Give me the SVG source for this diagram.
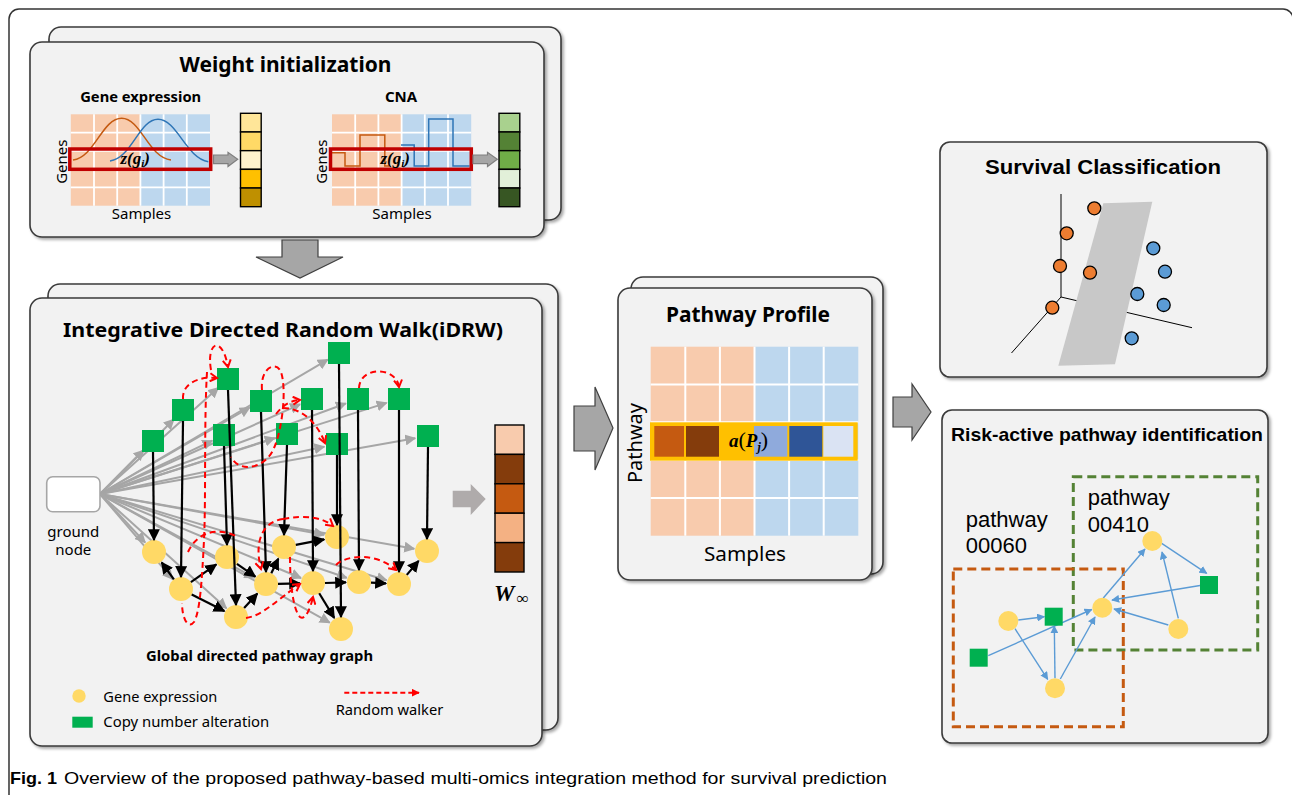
<svg xmlns="http://www.w3.org/2000/svg" width="1292" height="795" viewBox="0 0 1292 795">
<defs>
<style>
.panel{fill:#F2F2F2;stroke:#3A3A3A;stroke-width:1.6;filter:url(#sh)}
.t{font-family:"Noto Sans","Liberation Sans",sans-serif;fill:#000}
.a{font-family:"Liberation Sans",Arial,sans-serif;fill:#000}
.m{font-family:"Liberation Serif","DejaVu Serif",serif;font-weight:bold;font-style:italic;fill:#000}
.b{font-weight:bold}
.gl{stroke:#A6A6A6;stroke-width:2;fill:none;marker-end:url(#ga)}
.bl{stroke:#000;stroke-width:2.2;fill:none;marker-end:url(#ba)}
.rd{stroke:#FF0000;stroke-width:2;fill:none;stroke-dasharray:6 4;marker-end:url(#ra)}
.rdn{stroke:#FF0000;stroke-width:2;fill:none;stroke-dasharray:6 4}
.gene{fill:#FFD966}
.cna{fill:#00B050}
.blu{stroke:#5B9BD5;stroke-width:1.4;fill:none;marker-end:url(#bla)}
.or{fill:#F8CBAD}
.bu{fill:#BDD7EE}
.wl{stroke:#FFFFFF;stroke-width:1.8}
.big{fill:#A6A6A6;stroke:#404040;stroke-width:1.2}
.cell{stroke:#000;stroke-width:1.4}
.oc{fill:#ED7D31;stroke:#000;stroke-width:1.3}
.bc{fill:#5B9BD5;stroke:#000;stroke-width:1.3}
</style>
<filter id="sh" x="-5%" y="-5%" width="115%" height="115%"><feDropShadow dx="2" dy="2" stdDeviation="1.5" flood-color="#000" flood-opacity="0.35"/></filter>
<marker id="ga" viewBox="0 0 10 10" refX="9" refY="5" markerWidth="11" markerHeight="11" orient="auto" markerUnits="userSpaceOnUse"><path d="M0,0 L10,5 L0,10z" fill="#A6A6A6"/></marker>
<marker id="ba" viewBox="0 0 10 10" refX="9" refY="5" markerWidth="12" markerHeight="12" orient="auto" markerUnits="userSpaceOnUse"><path d="M0,0 L10,5 L0,10z" fill="#000"/></marker>
<marker id="ra" viewBox="0 0 10 10" refX="8" refY="5" markerWidth="10" markerHeight="10" orient="auto" markerUnits="userSpaceOnUse"><path d="M1,1 L8,5 L1,9" fill="none" stroke="#FF0000" stroke-width="2"/></marker>
<marker id="rf" viewBox="0 0 10 10" refX="9" refY="5" markerWidth="8" markerHeight="8" orient="auto" markerUnits="userSpaceOnUse"><path d="M0,0 L10,5 L0,10z" fill="#FF0000"/></marker>
<marker id="bla" viewBox="0 0 10 10" refX="9" refY="5" markerWidth="8" markerHeight="8" orient="auto" markerUnits="userSpaceOnUse"><path d="M0,0 L10,5 L0,10z" fill="#5B9BD5"/></marker>
</defs>
<rect width="1292" height="795" fill="#FFFFFF"/>
<rect id="frame" x="9" y="9" width="1284" height="810" rx="10" fill="none" stroke="#333" stroke-width="1.5"/>

<!-- Weight initialization -->
<g id="weight-init">
<rect class="panel" x="49" y="27" width="512" height="193" rx="12"/>
<rect class="panel" x="30" y="42" width="514" height="195" rx="12"/>
<text class="t b" x="285.5" y="71.7" font-size="22" text-anchor="middle" textLength="212" lengthAdjust="spacingAndGlyphs">Weight initialization</text>
<text class="t b" x="80.2" y="101.7" font-size="15" textLength="121" lengthAdjust="spacingAndGlyphs">Gene expression</text>
<text class="t b" x="401" y="101.7" font-size="15" text-anchor="middle">CNA</text>
<!-- GE grid -->
<rect class="or" x="70.8" y="114.3" width="69.6" height="91.4"/>
<rect class="bu" x="140.4" y="114.3" width="69.6" height="91.4"/>
<g class="wl"><line x1="94" y1="114.3" x2="94" y2="205.7"/><line x1="117.2" y1="114.3" x2="117.2" y2="205.7"/><line x1="140.4" y1="114.3" x2="140.4" y2="205.7"/><line x1="163.6" y1="114.3" x2="163.6" y2="205.7"/><line x1="186.8" y1="114.3" x2="186.8" y2="205.7"/><line x1="70.8" y1="132.6" x2="210" y2="132.6"/><line x1="70.8" y1="150.9" x2="210" y2="150.9"/><line x1="70.8" y1="169.2" x2="210" y2="169.2"/><line x1="70.8" y1="187.4" x2="210" y2="187.4"/></g>
<path d="M73,160 C95,157 102,118.3 121.7,118.3 C141,118.3 148,157 171,160" fill="none" stroke="#C55A11" stroke-width="1.5"/>
<path d="M110,161 C132,158 139,119.3 158,119.3 C177,119.3 186,158 208.3,161.7" fill="none" stroke="#2E75B6" stroke-width="1.5"/>
<rect x="69.8" y="149" width="140.9" height="20.3" fill="none" stroke="#C00000" stroke-width="3.5"/>
<text class="m" x="120.5" y="164" font-size="17">z(g<tspan font-size="11" dy="3">i</tspan><tspan dy="-3">)</tspan></text>
<text class="t" transform="translate(66.5,161.7) rotate(-90)" font-size="15" text-anchor="middle">Genes</text>
<text class="t" x="141.5" y="219" font-size="15" text-anchor="middle">Samples</text>
<path d="M213.5,155 H228 V152.3 L237.7,159.3 L228,166.5 V163.7 H213.5 Z" style="fill:#A6A6A6;stroke:#7F7F7F;stroke-width:1.2"/>
<g class="cell"><rect x="240.5" y="113.3" width="20.7" height="18.68" fill="#FFE699"/><rect x="240.5" y="131.98" width="20.7" height="18.68" fill="#FFD966"/><rect x="240.5" y="150.66" width="20.7" height="18.68" fill="#FFF2CC"/><rect x="240.5" y="169.34" width="20.7" height="18.68" fill="#FFC000"/><rect x="240.5" y="188.02" width="20.7" height="18.68" fill="#BF9000"/></g>
<!-- CNA grid -->
<rect class="or" x="332" y="114.3" width="69.6" height="91.4"/>
<rect class="bu" x="401.6" y="114.3" width="69.6" height="91.4"/>
<g class="wl"><line x1="355.2" y1="114.3" x2="355.2" y2="205.7"/><line x1="378.4" y1="114.3" x2="378.4" y2="205.7"/><line x1="401.6" y1="114.3" x2="401.6" y2="205.7"/><line x1="424.8" y1="114.3" x2="424.8" y2="205.7"/><line x1="448" y1="114.3" x2="448" y2="205.7"/><line x1="332" y1="132.6" x2="471.2" y2="132.6"/><line x1="332" y1="150.9" x2="471.2" y2="150.9"/><line x1="332" y1="169.2" x2="471.2" y2="169.2"/><line x1="332" y1="187.4" x2="471.2" y2="187.4"/></g>
<path d="M331,152.7 H345 V166 H360 V135 H384.8 V166 H389" fill="none" stroke="#C55A11" stroke-width="1.5"/>
<path d="M401,145 H414.2 V166 H428.7 V119 H453 V166 H469.6" fill="none" stroke="#2E75B6" stroke-width="1.5"/>
<rect x="330.5" y="149" width="140.8" height="20.3" fill="none" stroke="#C00000" stroke-width="3.5"/>
<text class="m" x="380.5" y="164" font-size="17">z(g<tspan font-size="11" dy="3">i</tspan><tspan dy="-3">)</tspan></text>
<text class="t" transform="translate(327,161.7) rotate(-90)" font-size="15" text-anchor="middle">Genes</text>
<text class="t" x="402" y="219" font-size="15" text-anchor="middle">Samples</text>
<path d="M473,155 H487.5 V152.3 L497.3,159.3 L487.5,166.5 V163.7 H473 Z" style="fill:#A6A6A6;stroke:#7F7F7F;stroke-width:1.2"/>
<g class="cell"><rect x="499" y="113.3" width="20.8" height="18.68" fill="#A9D18E"/><rect x="499" y="131.98" width="20.8" height="18.68" fill="#548235"/><rect x="499" y="150.66" width="20.8" height="18.68" fill="#70AD47"/><rect x="499" y="169.34" width="20.8" height="18.68" fill="#E2F0D9"/><rect x="499" y="188.02" width="20.8" height="18.68" fill="#375623"/></g>
</g>

<g id="arrow-down"><path class="big" d="M282,240 H318 V257 H343 L300,278 L256,257 H282 Z"/></g>

<!-- iDRW panel -->
<g id="idrw-panel">
<rect class="panel" x="48" y="284" width="510" height="446" rx="12"/>
<rect class="panel" x="30" y="298" width="512" height="448" rx="12"/>
<text class="t b" x="283" y="337" font-size="20" text-anchor="middle" textLength="440" lengthAdjust="spacingAndGlyphs">Integrative Directed Random Walk(iDRW)</text>
<text class="t b" x="259.5" y="660.7" font-size="15" text-anchor="middle" textLength="227" lengthAdjust="spacingAndGlyphs">Global directed pathway graph</text>
</g>

<g id="connectors-gray">
<path class="gl" d="M100,494 L143.8,450.2"/>
<path class="gl" d="M100,494 L173.9,419.2"/>
<path class="gl" d="M100,494 L218.3,387.7"/>
<path class="gl" d="M100,494 L249.7,407.5"/>
<path class="gl" d="M100,494 L212.3,440.6"/>
<path class="gl" d="M100,494 L274.6,438"/>
<path class="gl" d="M100,494 L327.8,359.6"/>
<path class="gl" d="M100,494 L300.1,404.3"/>
<path class="gl" d="M100,494 L345.8,403.5"/>
<path class="gl" d="M100,494 L386.6,402.9"/>
<path class="gl" d="M100,494 L324.3,446.7"/>
<path class="gl" d="M100,494 L415.2,438.3"/>
<path class="gl" d="M100,494 L145.1,542.5"/>
<path class="gl" d="M100,494 L172.6,579.1"/>
<path class="gl" d="M100,494 L226.4,608.3"/>
<path class="gl" d="M100,494 L329.7,622.6"/>
<path class="gl" d="M100,494 L301,578"/>
<path class="gl" d="M100,494 L346.7,577.8"/>
<path class="gl" d="M100,494 L414.2,548.8"/>
<path class="gl" d="M100,494 L386.6,580.3"/>
<path class="gl" d="M100,494 L324.2,534.7"/>
<path class="gl" d="M100,494 L254.6,577.8"/>
</g>

<g id="ground-node">
<rect x="46.7" y="476.7" width="53.3" height="35" rx="6" fill="#FFFFFF" stroke="#A6A6A6" stroke-width="1.6"/>
<text class="t" x="73.3" y="537" font-size="15" text-anchor="middle">ground</text>
<text class="t" x="73.3" y="555" font-size="15" text-anchor="middle">node</text>
</g>

<g id="cna-nodes">
<g id="s1"><rect class="cna" x="142" y="430" width="22" height="22"/></g>
<g id="s2"><rect class="cna" x="172" y="399" width="22" height="22"/></g>
<g id="s3"><rect class="cna" x="217" y="368" width="22" height="22"/></g>
<g id="s4"><rect class="cna" x="250" y="390" width="22" height="22"/></g>
<g id="s5"><rect class="cna" x="213" y="424" width="22" height="22"/></g>
<g id="s6"><rect class="cna" x="276" y="423" width="22" height="22"/></g>
<g id="s7"><rect class="cna" x="328" y="342" width="22" height="22"/></g>
<g id="s8"><rect class="cna" x="301" y="388" width="22" height="22"/></g>
<g id="s9"><rect class="cna" x="347" y="388" width="22" height="22"/></g>
<g id="s10"><rect class="cna" x="388" y="388" width="22" height="22"/></g>
<g id="s11"><rect class="cna" x="326" y="433" width="22" height="22"/></g>
<g id="s12"><rect class="cna" x="417" y="425" width="22" height="22"/></g>
</g>
<g id="gene-nodes">
<g id="g1"><circle class="gene" cx="154" cy="552" r="12"/></g>
<g id="g2"><circle class="gene" cx="181" cy="589" r="12"/></g>
<g id="g3"><circle class="gene" cx="227" cy="557" r="12"/></g>
<g id="g4"><circle class="gene" cx="236" cy="617" r="12"/></g>
<g id="g5"><circle class="gene" cx="266" cy="584" r="12"/></g>
<g id="g6"><circle class="gene" cx="284" cy="547" r="12"/></g>
<g id="g7"><circle class="gene" cx="337" cy="537" r="12"/></g>
<g id="g8"><circle class="gene" cx="313" cy="583" r="12"/></g>
<g id="g9"><circle class="gene" cx="359" cy="582" r="12"/></g>
<g id="g10"><circle class="gene" cx="399" cy="584" r="12"/></g>
<g id="g11"><circle class="gene" cx="427" cy="551" r="12"/></g>
<g id="g12"><circle class="gene" cx="341" cy="629" r="12"/></g>
</g>

<g id="connectors-black">
<path class="bl" d="M153,452 L154,540"/>
<path class="bl" d="M183,421 L181,577"/>
<path class="bl" d="M228,390 L236,605"/>
<path class="bl" d="M224,446 L227,545"/>
<path class="bl" d="M261,412 L266,572"/>
<path class="bl" d="M287,445 L284,535"/>
<path class="bl" d="M339,364 L341,617"/>
<path class="bl" d="M312,410 L313,571"/>
<path class="bl" d="M337,455 L337,525"/>
<path class="bl" d="M358,410 L359,570"/>
<path class="bl" d="M399,410 L399,572"/>
<path class="bl" d="M428,447 L427,539"/>
<path class="bl" d="M173.9,579.3 L161.7,562.5"/>
<path class="bl" d="M190.9,582.1 L216.3,564.4"/>
<path class="bl" d="M191.7,594.4 L224.4,611.1"/>
<path class="bl" d="M244.1,608.1 L257.3,593.6"/>
<path class="bl" d="M236.9,563.8 L255.3,576.6"/>
<path class="bl" d="M271.3,573.2 L278.3,558.7"/>
<path class="bl" d="M278,583.8 L300,583.3"/>
<path class="bl" d="M295.8,544.8 L324.2,539.4"/>
<path class="bl" d="M325,583 L346,582.3"/>
<path class="bl" d="M371,582.6 L386,583.4"/>
<path class="bl" d="M406.8,574.9 L418.6,560.9"/>
<path class="bl" d="M319.2,593.2 L334.2,617.9"/>
</g>

<g id="connectors-random-walker">
<path class="rd" d="M183,399 C182,384 198,376 217,378"/>
<path class="rd" d="M211,370 C206,342 222,334 228,367"/>
<path class="rdn" d="M207,372 C204,420 206,500 204,540 C202,580 200,612 194,622 C188,630 182,618 182,603"/>
<path class="rdn" d="M188,552 C196,534 215,526 236,536"/>
<path class="rdn" d="M262,390 C260,368 276,360 281,372 C287,390 282,430 274,448 C266,468 240,474 231,457"/>
<path class="rd" d="M276,414 C284,404 290,401 300,400"/>
<path class="rd" d="M283,408 C300,408 316,420 325,443"/>
<path class="rd" d="M359,388 C360,366 396,366 399,387"/>
<path class="rd" d="M283,519 C262,522 254,542 261,569"/>
<path class="rd" d="M283,519 C305,515 322,517 333,526"/>
<path class="rd" d="M336,565 C346,555 376,552 396,570"/>
<path class="rd" d="M290,557 C290,582 293,610 300,617 C306,621 311,606 313,597"/>
<path class="rd" d="M246,618 C262,616 277,600 300,584"/>
</g>

<g id="legend">
<circle class="gene" cx="79" cy="696" r="6.7"/>
<text class="t" x="103.3" y="701.7" font-size="15" textLength="114" lengthAdjust="spacingAndGlyphs">Gene expression</text>
<rect class="cna" x="72.3" y="716.7" width="20.4" height="11"/>
<text class="t" x="103.3" y="726.7" font-size="15" textLength="166" lengthAdjust="spacingAndGlyphs">Copy number alteration</text>
<path d="M344.3,692.7 H419" stroke="#FF0000" stroke-width="2" stroke-dasharray="5 3" fill="none" marker-end="url(#rf)"/>
<text class="t" x="335.7" y="715" font-size="15" textLength="107.6" lengthAdjust="spacingAndGlyphs">Random walker</text>
</g>

<g id="w-vector">
<path d="M452.7,490.7 H470.7 V484 L485.7,499 L470.7,515 V507.3 H452.7 Z" fill="#AFABAB"/>
<g class="cell"><rect x="495" y="425" width="29" height="29.4" fill="#F8CBAD"/><rect x="495" y="454.4" width="29" height="29.4" fill="#843C0C"/><rect x="495" y="483.8" width="29" height="29.4" fill="#C55A11"/><rect x="495" y="513.2" width="29" height="29.4" fill="#F4B183"/><rect x="495" y="542.6" width="29" height="29.4" fill="#843C0C"/></g>
<text class="m" x="494" y="601" font-size="23">W</text>
<text class="m" x="516" y="604" font-size="17">∞</text>
</g>

<g id="arrow-right-1"><path class="big" d="M574,406 H595 V387 L613,428 L595,470 V451 H574 Z"/></g>

<!-- Pathway profile -->
<g id="pathway-profile">
<rect class="panel" x="631" y="277" width="252" height="297" rx="12"/>
<rect class="panel" x="618" y="288" width="254" height="292" rx="12"/>
<text class="t b" x="748" y="322.3" font-size="21" text-anchor="middle" textLength="164" lengthAdjust="spacingAndGlyphs">Pathway Profile</text>
<rect class="or" x="650.7" y="346.7" width="103.8" height="189"/>
<rect class="bu" x="754.5" y="346.7" width="103.8" height="189"/>
<g class="wl" style="stroke-width:2"><line x1="685.3" y1="346.7" x2="685.3" y2="535.7"/><line x1="719.9" y1="346.7" x2="719.9" y2="535.7"/><line x1="754.5" y1="346.7" x2="754.5" y2="535.7"/><line x1="789.1" y1="346.7" x2="789.1" y2="535.7"/><line x1="823.7" y1="346.7" x2="823.7" y2="535.7"/><line x1="650.7" y1="384.5" x2="858.3" y2="384.5"/><line x1="650.7" y1="422.3" x2="858.3" y2="422.3"/><line x1="650.7" y1="460.1" x2="858.3" y2="460.1"/><line x1="650.7" y1="497.9" x2="858.3" y2="497.9"/></g>
<rect x="652" y="424.3" width="203.7" height="34.4" fill="#FFC000" stroke="#FFC000" stroke-width="4"/>
<rect x="654.3" y="426" width="29.7" height="30.7" fill="#C55A11"/>
<rect x="686" y="426" width="33" height="30.7" fill="#843C0C"/>
<rect x="754" y="426" width="33.3" height="30.7" fill="#8FAADC"/>
<rect x="789.3" y="426" width="33" height="30.7" fill="#2F5597"/>
<rect x="823.3" y="426" width="30" height="30.7" fill="#DAE3F3"/>
<text class="m" x="729" y="447" font-size="19">a<tspan font-style="normal" font-weight="normal" font-size="22">(</tspan>P<tspan font-size="12" dy="4">j</tspan><tspan dy="-4" font-style="normal" font-weight="normal" font-size="22">)</tspan></text>
<text class="t" transform="translate(642,443) rotate(-90)" font-size="20" text-anchor="middle">Pathway</text>
<text class="t" x="745" y="560.7" font-size="20" text-anchor="middle" textLength="82" lengthAdjust="spacingAndGlyphs">Samples</text>
</g>

<g id="arrow-right-2"><path class="big" d="M893,397 H912 V384 L931,412 L912,440 V427 H893 Z"/></g>

<!-- Survival classification -->
<g id="survival-classification">
<rect class="panel" x="940" y="142" width="327" height="235" rx="10"/>
<text class="a b" x="1103" y="174.3" font-size="21" text-anchor="middle" textLength="236" lengthAdjust="spacingAndGlyphs">Survival Classification</text>
<g stroke="#000" stroke-width="1" fill="none"><line x1="1061" y1="194" x2="1061" y2="297"/><line x1="1061" y1="297" x2="1011.5" y2="353"/><line x1="1061" y1="297" x2="1192" y2="327.7"/></g>
<polygon points="1103.3,203.3 1152.3,201.7 1115,364.3 1058.3,365.7" fill="#C8C8C8"/>
<circle class="oc" cx="1094.3" cy="208.3" r="6.5"/>
<circle class="oc" cx="1066.7" cy="233.3" r="6.5"/>
<circle class="oc" cx="1060" cy="266" r="6.5"/>
<circle class="oc" cx="1090" cy="272.7" r="6.5"/>
<circle class="oc" cx="1052.3" cy="307.7" r="6.5"/>
<circle class="bc" cx="1153.3" cy="248.3" r="6.5"/>
<circle class="bc" cx="1165" cy="271.7" r="6.5"/>
<circle class="bc" cx="1137.3" cy="294" r="6.5"/>
<circle class="bc" cx="1163.7" cy="305" r="6.5"/>
<circle class="bc" cx="1131.7" cy="338.3" r="6.5"/>
</g>

<!-- Risk-active pathway identification -->
<g id="risk-active">
<rect class="panel" x="942" y="410" width="326" height="333" rx="10"/>
<text class="a b" x="1107" y="441" font-size="19" text-anchor="middle" textLength="312" lengthAdjust="spacingAndGlyphs">Risk-active pathway identification</text>
<rect x="1073.3" y="476.7" width="184.4" height="173.3" fill="none" stroke="#548235" stroke-width="3" stroke-dasharray="9 5"/>
<rect x="953.3" y="569" width="170" height="157.7" fill="none" stroke="#C55A11" stroke-width="3" stroke-dasharray="9 5"/>
<text class="a" x="1087.7" y="505" font-size="22">pathway</text>
<text class="a" x="1087.7" y="532.3" font-size="22">00410</text>
<text class="a" x="965.7" y="526.7" font-size="22">pathway</text>
<text class="a" x="965.7" y="552.7" font-size="22">00060</text>
<g id="risk-connectors">
<path class="blu" d="M1161.7,543.3 L1206.7,573.3"/>
<path class="blu" d="M1200,585.5 L1112,600"/>
<path class="blu" d="M1168.3,625 L1114,609"/>
<path class="blu" d="M1178.3,618.3 L1162,552"/>
<path class="blu" d="M1103.3,598 L1145,549"/>
<path class="blu" d="M988.3,655.7 L1091.7,609.5"/>
<path class="blu" d="M1018.3,620 L1044.3,616.7"/>
<path class="blu" d="M1015,628.7 L1047.7,679.3"/>
<path class="blu" d="M1055,678.3 L1054.3,626"/>
<path class="blu" d="M1060.3,679 L1095,617"/>
</g>
<g id="r-a"><ellipse class="gene" cx="1152.3" cy="541" rx="10" ry="10"/></g>
<g id="r-b"><ellipse class="gene" cx="1102.3" cy="607.7" rx="10" ry="10"/></g>
<g id="r-c"><ellipse class="gene" cx="1008.3" cy="621" rx="10" ry="10"/></g>
<g id="r-d"><ellipse class="gene" cx="1055" cy="688.3" rx="10" ry="10"/></g>
<g id="r-e"><ellipse class="gene" cx="1178.3" cy="629" rx="10" ry="10"/></g>
<g id="r-f"><rect class="cna" x="1200" y="576" width="18" height="18"/></g>
<g id="r-g"><rect class="cna" x="1044.7" y="607.7" width="18" height="18"/></g>
<g id="r-h"><rect class="cna" x="969.7" y="648.7" width="18" height="18"/></g>
</g>

<g id="caption">
<text class="a b" x="10" y="784" font-size="17" textLength="47" lengthAdjust="spacingAndGlyphs">Fig. 1</text>
<text class="a" x="64" y="784" font-size="17" textLength="823" lengthAdjust="spacingAndGlyphs">Overview of the proposed pathway-based multi-omics integration method for survival prediction</text>
</g>
</svg>
